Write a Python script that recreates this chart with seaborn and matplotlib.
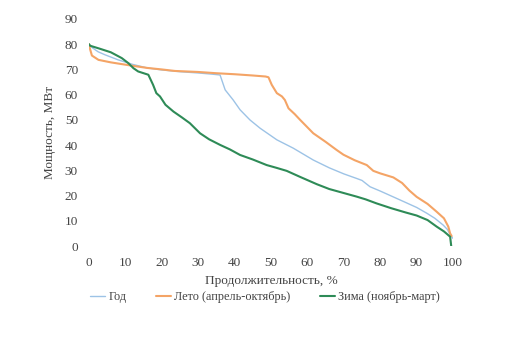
import matplotlib
matplotlib.use("Agg")
import matplotlib.pyplot as plt
import seaborn as sns
import pandas as pd

sns.set_theme(style="white")
plt.rcParams['font.family'] = ['Liberation Serif', 'DejaVu Serif']

# Год (year)
year_x = [0, 1, 2.5, 4.4, 8, 12, 16, 20, 25, 30, 34, 36, 37.4, 39.6, 41.5, 44.2, 47, 51.6, 56.1, 61.6, 66, 70, 73.5, 75, 77.2, 80, 85.4, 90, 92.8, 95, 97.3, 98.5, 99.2, 100]
year_y = [80, 78.5, 77, 75.8, 73.8, 72, 70.6, 69.8, 69.1, 68.6, 68.1, 67.8, 61.9, 57.9, 54, 50, 46.7, 42.1, 38.8, 34.1, 31.0, 28.6, 26.8, 26.0, 23.5, 21.8, 18.3, 15.3, 13, 11, 8.3, 6.5, 4.5, 3]

# Лето (summer)
summer_x = [0, 0.3, 0.8, 2.6, 6, 11.7, 16, 20, 23.6, 30, 35, 40, 45, 48.5, 49.3, 50.2, 51.6, 53, 53.8, 54.8, 56.5, 58, 61.6, 65, 68, 69.9, 73, 76.3, 78.1, 80, 83.6, 86, 88, 90, 93, 95.5, 97.5, 98.7, 99.2, 99.6]
summer_y = [80, 78, 75.5, 73.8, 72.8, 71.5, 70.6, 70.0, 69.4, 69.0, 68.5, 68.1, 67.6, 67.2, 66.9, 63.9, 60.6, 59.3, 57.9, 54.6, 52.3, 50, 44.7, 41.3, 38.1, 36.2, 34, 32.1, 29.8, 28.8, 27.2, 25, 22, 19.5, 16.7, 13.6, 11, 7.7, 5.0, 4.0]

# Зима (winter)
winter_x = [0, 0.3, 3, 6, 9, 10.8, 12.2, 13.5, 16.3, 17.6, 18.5, 19.5, 21, 23.2, 25.5, 27.7, 30.5, 33, 36, 38.7, 41.5, 45, 48.8, 51.5, 54.3, 58, 62.6, 66, 70, 73.5, 76, 79, 83, 87, 90, 93, 95.5, 97.5, 99.2, 99.5]
winter_y = [80, 79.4, 78.2, 76.8, 74.5, 72.5, 70.5, 69.2, 67.9, 63.9, 60.6, 59.3, 56, 53.3, 51, 48.7, 44.7, 42.3, 40.1, 38.3, 36.1, 34.3, 32.1, 31.0, 29.8, 27.4, 24.5, 22.6, 21, 19.6, 18.5, 16.9, 15, 13.3, 12.1, 10.3, 7.7, 5.8, 3.7, 0]

labels = ['Год', 'Лето (апрель-октябрь)', 'Зима (ноябрь-март)']
colors = ['#9DC3E6', '#F4A466', '#2E8B57']
widths = [1.0, 1.5, 1.5]

df = pd.concat([
    pd.DataFrame({'x': year_x, 'y': year_y, 's': labels[0]}),
    pd.DataFrame({'x': summer_x, 'y': summer_y, 's': labels[1]}),
    pd.DataFrame({'x': winter_x, 'y': winter_y, 's': labels[2]}),
])

fig = plt.figure(figsize=(5.16, 3.49), dpi=100)
ax = fig.add_axes([0.1725, 0.295, 0.7055, 0.6506])
for lab, c, w in zip(labels, colors, widths):
    sub = df[df['s'] == lab]
    sns.lineplot(data=sub, x='x', y='y', ax=ax, color=c, linewidth=w, label=lab,
                 sort=False, estimator=None)

ax.set_xlim(0, 100)
ax.set_ylim(0, 90)
ax.set_xticks(range(0, 101, 10))
ax.set_yticks(range(0, 91, 10))
for s in ax.spines.values():
    s.set_visible(False)
ax.tick_params(axis='both', length=0, labelsize=9.5, colors='#444444', pad=8)
ax.set_xlabel('Продолжительность, %', fontsize=9.5, color='#444444', labelpad=4)
ax.set_ylabel('Мощность, МВт', fontsize=9.5, color='#444444', labelpad=6)
ax.grid(False)

ax.legend(loc='center', bbox_to_anchor=(0.4835, -0.224), ncol=3, frameon=False,
          fontsize=8.8, handlelength=1.2, handletextpad=0.3, columnspacing=2.4,
          labelcolor='#444444')

fig.savefig('out.png', dpi=100)
